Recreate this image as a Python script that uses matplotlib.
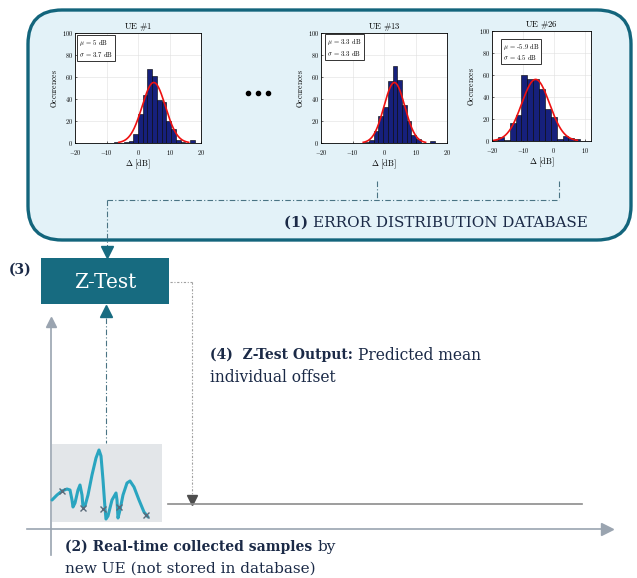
import numpy as np
import matplotlib.pyplot as plt
from matplotlib.patches import FancyBboxPatch, Rectangle

plt.rcParams['mathtext.fontset'] = 'cm'

W, H = 637, 578

# histogram data (bin start, bin width, counts)
ue_names = ['UE #1', 'UE #13', 'UE #26']
ue_mu = [5.0, 3.3, -5.9]
ue_sigma = [3.7, 3.3, 4.5]
ue_peak = [55, 55, 56]
ue_bin_start = [-7.5, -6.3, -20.0]
ue_bin_width = [1.5, 1.5, 1.9]
ue1_counts = [1, 0, 1, 2, 8, 26, 44, 67, 61, 39, 37, 20, 13, 3, 1, 0, 3]
ue13_counts = [1, 3, 11, 25, 33, 56, 70, 57, 35, 20, 7, 4, 0, 0, 2]
ue26_counts = [1, 4, 1, 16, 24, 60, 56, 56, 47, 29, 22, 2, 5, 3, 2]
ue_counts = [ue1_counts, ue13_counts, ue26_counts]
ue_xlim = [(-20, 20), (-20, 20), (-20, 12)]
x_ticks = [-20, -10, 0, 10, 20]
y_ticks = [0, 20, 40, 60, 80, 100]

# sketch of the real-time samples (pixel coords of the little drawing)
sample_x = [52, 57, 62, 67, 70, 72, 73, 75, 78, 80, 82, 83, 85, 88, 92, 96, 99,
            101, 103, 105, 106, 108, 112, 116, 117, 118, 120, 123, 127, 130, 134,
            139, 144, 148]
sample_y = [500, 495, 491, 489, 490, 500, 507, 503, 490, 485, 495, 507, 506, 495,
            475, 458, 450, 456, 480, 508, 519, 516, 500, 493, 500, 518, 510, 495,
            483, 481, 487, 500, 512, 517]
marks_x = [62, 83, 103, 119, 146]
marks_y = [491, 508, 509, 507, 515]

teal = '#176b80'
ink = '#1b2a47'
axis_grey = '#9aa4b0'

fig = plt.figure(figsize=(W / 100, H / 100), dpi=100)
ax = fig.add_axes([0, 0, 1, 1])
ax.set_xlim(0, W)
ax.set_ylim(H, 0)
ax.axis('off')

def frac(l, t, r, b):
    return [l / W, 1 - b / H, (r - l) / W, (b - t) / H]

# database box
ax.add_patch(FancyBboxPatch((28, 10), 603, 230,
                            boxstyle='round,pad=0,rounding_size=34',
                            fc='#e3f2f8', ec='#13657c', lw=2.4))
for dx in [248, 258, 268]:
    ax.plot(dx, 93, 'o', color='k', ms=3)

# dash-dot links from histograms to the Z-test
dd = dict(color='#4a7484', lw=0.8, ls=(0, (5, 2, 1, 2)))
ax.plot([377, 377], [181, 200], **dd)
ax.plot([559, 559], [181, 200], **dd)
ax.plot([107, 559], [200, 200], **dd)
ax.plot([107, 107], [200, 250], **dd)
ax.plot(107, 252, marker='v', color=teal, ms=8)

rich_renderer = fig.canvas.get_renderer()

def rich(x, y, parts):
    for txt, weight, size in parts:
        t = ax.text(x, y, txt, fontsize=size, fontweight=weight, color=ink,
                    family='DejaVu Serif', va='center', ha='left')
        bb = t.get_window_extent(rich_renderer)
        x = ax.transData.inverted().transform((bb.x1, bb.y0))[0]

rich(284, 223, [('(1) ', 'bold', 10.5), ('ERROR DISTRIBUTION DATABASE', 'normal', 10.9)])

# Z-test block
ax.add_patch(Rectangle((41, 258), 128, 46, fc=teal, ec='none'))
ax.text(105, 282, 'Z-Test', color='white', fontsize=14.5, family='DejaVu Serif',
        ha='center', va='center')
ax.text(9, 270, '(3)', color=ink, fontsize=10, fontweight='bold',
        family='DejaVu Serif', ha='left', va='center')

# input from samples
ax.plot([106, 106], [318, 443], **dd)
ax.plot(106, 311, marker='^', color=teal, ms=8)

# output from Z-test
dot = dict(color='#a0a0a0', lw=0.8, ls=(0, (2, 1.5, 1, 1.5)))
ax.plot([170, 192], [282, 282], **dot)
ax.plot([192, 192], [282, 496], **dot)
ax.plot(192, 500, marker='v', color='#4d4d4d', ms=7)
ax.plot([168, 582], [504, 504], color='#8c8c8c', lw=1.2)

rich(210, 355, [('(4)  Z-Test Output: ', 'bold', 10), ('Predicted mean', 'normal', 11.2)])
rich(210, 377, [('individual offset', 'normal', 11.2)])

# time axes
ax.plot([51, 51], [555, 325], color=axis_grey, lw=1.2)
ax.plot(51, 322, marker='^', color=axis_grey, ms=7)
ax.plot([27, 604], [529, 529], color=axis_grey, lw=1.2)
ax.plot(607, 529, marker='>', color=axis_grey, ms=8)

# sample sketch
ax.add_patch(Rectangle((52, 444), 110, 78, fc='#e3e6e9', ec='none'))
ax.plot(sample_x, sample_y, color='#2aa5c0', lw=2.2, solid_capstyle='round')
ax.plot(marks_x, marks_y, 'x', color='#5a6a7a', ms=5, mew=1)

rich(65, 547, [('(2) Real-time collected samples ', 'bold', 10), ('by', 'normal', 11)])
rich(65, 569, [('new UE (not stored in database)', 'normal', 11)])

# histogram insets
hist_boxes = [(75, 33, 201, 143), (321, 33, 447, 143), (492, 31, 591, 141)]
text_pos = [(0.03, 0.95), (0.05, 0.96), (0.11, 0.9)]
for i in range(3):
    h = fig.add_axes(frac(*hist_boxes[i]))
    h.set_facecolor('white')
    counts = np.array(ue_counts[i])
    edges = ue_bin_start[i] + ue_bin_width[i] * np.arange(len(counts))
    h.bar(edges, counts, width=ue_bin_width[i], align='edge', color='#16207c',
          edgecolor='black', lw=0.4, zorder=2)
    mu, sd = ue_mu[i], ue_sigma[i]
    xs = np.linspace(mu - 3 * sd, mu + 3 * sd, 200)
    h.plot(xs, ue_peak[i] * np.exp(-(xs - mu) ** 2 / (2 * sd ** 2)),
           color='#ee1111', lw=1.2, zorder=3)
    h.set_xlim(*ue_xlim[i])
    h.set_ylim(0, 100)
    xt = [t for t in x_ticks if ue_xlim[i][0] <= t <= ue_xlim[i][1]]
    h.set_xticks(xt)
    h.set_xticklabels(['$%d$' % t for t in xt])
    h.set_yticks(y_ticks)
    h.set_yticklabels(['$%d$' % t for t in y_ticks])
    h.tick_params(labelsize=4.5, direction='in', length=1.5, width=0.4, pad=1.5)
    h.tick_params(axis='x', pad=3.5)
    h.grid(color='#e0e0e0', lw=0.4, zorder=0)
    h.set_axisbelow(True)
    for s in h.spines.values():
        s.set_linewidth(0.6)
    h.set_title(r'$\mathrm{UE\ \#%s}$' % ue_names[i].split('#')[1], fontsize=6.3, pad=2)
    h.set_xlabel(r'$\Delta\ \mathrm{[dB]}$', fontsize=6, labelpad=0.5)
    h.set_ylabel(r'$\mathrm{Occurences}$', fontsize=5.5, labelpad=2)
    h.text(*text_pos[i], r'$\mu$ = %g dB' % mu + '\n' + r'$\sigma$ = %g dB' % sd,
           transform=h.transAxes, fontsize=4.8, family='cmr10', va='top', ha='left',
           bbox=dict(boxstyle='square,pad=0.3', fc='white', ec='#333333', lw=0.7),
           zorder=5)

fig.savefig('out.png', dpi=100)
